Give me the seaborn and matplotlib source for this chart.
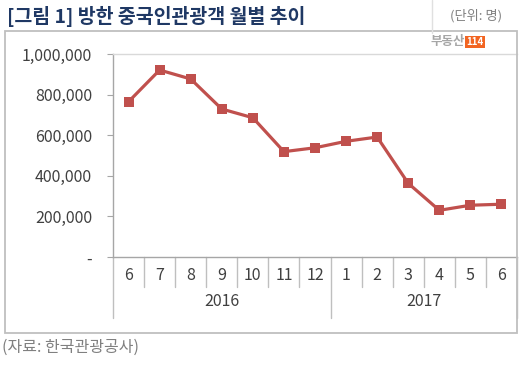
import matplotlib
matplotlib.use("Agg")
import matplotlib.pyplot as plt
import matplotlib.transforms as mtransforms
from matplotlib.patches import Rectangle
import seaborn as sns
import pandas as pd

months = ["6", "7", "8", "9", "10", "11", "12", "1", "2", "3", "4", "5", "6"]
years = ["2016", "2017"]
year_counts = [7, 6]
visitors = [765000, 921000, 877000, 729000, 686000, 519000, 538000,
            570000, 591000, 363000, 230000, 255000, 260000]
yticks = [0, 200000, 400000, 600000, 800000, 1000000]
ytick_labels = ["-", "200,000", "400,000", "600,000", "800,000", "1,000,000"]

sns.set_style("white")
plt.rcParams['font.family'] = ['Noto Sans CJK KR', 'DejaVu Sans']

W, H = 528, 365
fig = plt.figure(figsize=(W / 100, H / 100), dpi=100)

def fx(px):
    return px / W

def fy(py):
    return 1 - py / H

ax = fig.add_axes([fx(113), fy(257), fx(517) - fx(113), fy(54) - fy(257)])

df = pd.DataFrame({"idx": list(range(len(visitors))), "v": visitors})
sns.lineplot(data=df, x="idx", y="v", ax=ax, color="#C0504D", linewidth=2.3,
             marker="s", markersize=7, markeredgewidth=0, markeredgecolor="#C0504D")

ax.set_xlim(-0.5, len(months) - 0.5)
ax.set_ylim(0, 1000000)
ax.set_xlabel("")
ax.set_ylabel("")

ax.set_yticks(yticks)
ax.set_yticklabels(ytick_labels)
ax.tick_params(axis="y", direction="out", length=4, width=0.8, color="#A6A6A6",
               pad=11, labelsize=11.5, labelcolor="#404040", left=True)
ax.set_xticks(range(len(months)))
ax.set_xticklabels(months)
ax.tick_params(axis="x", length=0, pad=7, labelsize=11.5, labelcolor="#404040")

ax.spines["right"].set_visible(False)
for s in ["left", "bottom", "top"]:
    ax.spines[s].set_linewidth(1.0)
ax.spines["top"].set_color("#D9D9D9")
ax.spines["left"].set_color("#A6A6A6")
ax.spines["bottom"].set_color("#A6A6A6")

trans = mtransforms.blended_transform_factory(ax.transData, ax.transAxes)
axh = 257 - 54
short = -30 / axh
long_ = -61 / axh
year_bounds = [-0.5]
acc = -0.5
for c in year_counts:
    acc += c
    year_bounds.append(acc)
for i in range(len(months) + 1):
    xb = i - 0.5
    bottom = long_ if xb in year_bounds else short
    ax.plot([xb, xb], [0, bottom], transform=trans, color="#BFBFBF",
            linewidth=1.0, clip_on=False)

start = -0.5
for y, c in zip(years, year_counts):
    ax.text(start + c / 2, -45 / axh, y, transform=trans, ha="center",
            va="center", fontsize=11.5, color="#404040")
    start += c

# outer frame
fig.patches.append(Rectangle((fx(5), fy(333)), fx(517) - fx(5), fy(31) - fy(333),
                             transform=fig.transFigure, fill=False,
                             edgecolor="#BFBFBF", linewidth=1.3))
fig.add_artist(plt.Line2D([fx(432), fx(432)], [fy(0), fy(33)],
                          transform=fig.transFigure, color="#E0E0E0", linewidth=1))

fig.text(fx(7), fy(16), "[그림 1] 방한 중국인관광객 월별 추이", fontsize=14,
         fontweight="bold", color="#1F3864", ha="left", va="center")
fig.text(fx(502), fy(16), "(단위: 명)", fontsize=9.5, color="#808080",
         ha="right", va="center")
fig.text(fx(2), fy(347), "(자료: 한국관광공사)", fontsize=11.5, color="#808080",
         ha="left", va="center")

# logo
fig.text(fx(465), fy(42), "부동산", fontsize=9, fontweight="bold",
         color="#A6A6A6", ha="right", va="center")
fig.text(fx(475), fy(42), "114", fontsize=7, fontweight="bold", color="white",
         ha="center", va="center",
         bbox=dict(boxstyle="square,pad=0.15", facecolor="#F26522", edgecolor="none"))

fig.savefig("out.png", dpi=100)
